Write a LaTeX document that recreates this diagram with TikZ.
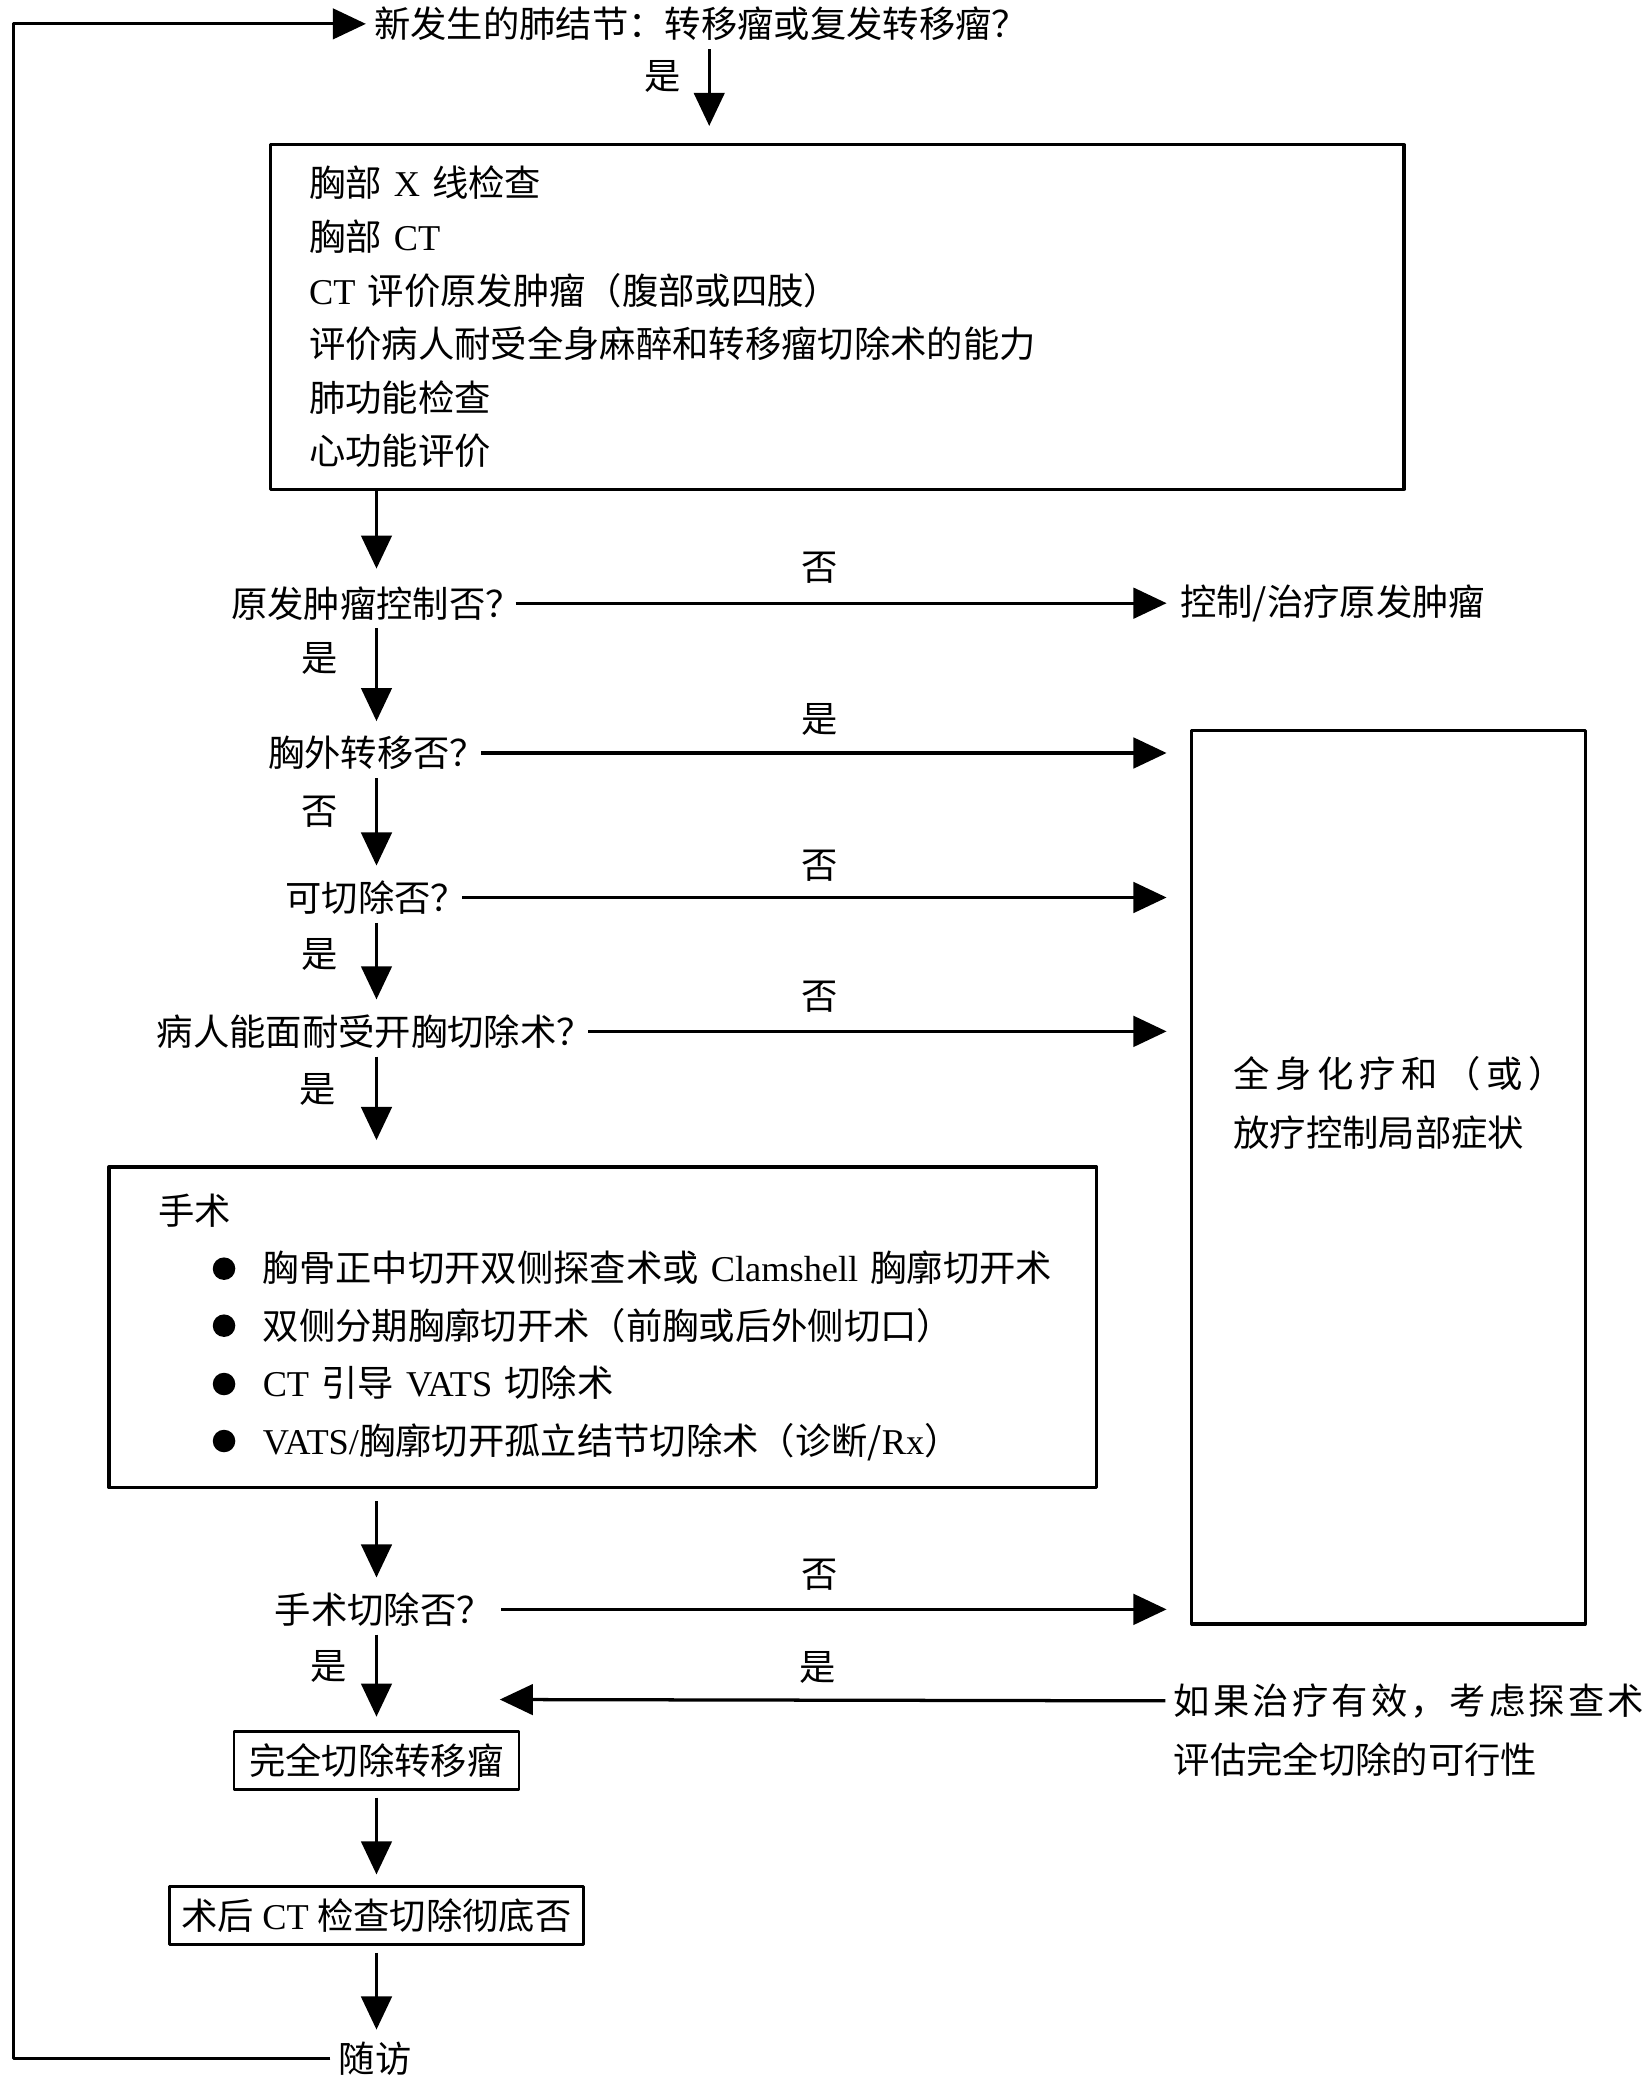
\documentclass[tikz,border=0pt]{standalone}
\usepackage{fontspec}
\setmainfont{Noto Sans CJK SC}
\newfontfamily\latfont{Liberation Serif}
\newcommand{\lat}[1]{{\latfont #1}}
\usetikzlibrary{arrows.meta}

\tikzset{
  flow/.style={line width=1.4pt,-{Triangle[length=0.5cm,width=0.46cm]}},
  txt/.style={inner sep=0.12cm,anchor=west},
  lbl/.style={inner sep=0pt},
  frame/.style={draw,line width=1.4pt},
}

\begin{document}
\begin{tikzpicture}[x=0.02cm,y=-0.02cm,line join=round,font=\fontsize{15.6pt}{23pt}\selectfont]
\useasboundingbox (0,0) rectangle (1240,1566);
\coordinate (col) at (284,0);
\coordinate (ax) at (535,0);
\coordinate (lx) at (10,0);
\coordinate (rx) at (880,0);
\coordinate (fbend) at (377,1282);

% top question and examination box
\node[txt] (top) at (276,18) {新发生的肺结节：转移瘤或复发转移瘤？};
\node[frame,anchor=north west,align=left,text width=15.94cm,inner xsep=0.58cm,minimum height=5.2cm,
  font=\fontsize{15.6pt}{23pt}\selectfont] (exam) at (203,108)
  {胸部 \lat{X} 线检查\\胸部 \lat{CT}\\\lat{CT} 评价原发肿瘤（腹部或四肢）\\评价病人耐受全身麻醉和转移瘤切除术的能力\\肺功能检查\\心功能评价};
\draw[flow,shorten >=0.26cm] (top.south -| ax) -- (exam.north -| ax);
\node[lbl] (y0) at (500,58) {是};

% questions
\node[txt] (q1) at (168,455) {原发肿瘤控制否？};
\node[txt] (ctl) at (884,455) {控制/治疗原发肿瘤};
\node[txt] (q2) at (196,568) {胸外转移否？};
\node[txt] (q3) at (209,677) {可切除否？};
\node[txt] (q4) at (112,778) {病人能面耐受开胸切除术？};

\draw[flow,shorten >=0.14cm] (exam.south -| col) -- (q1.north -| col);
\foreach \a/\b in {q1/q2,q2/q3,q3/q4}
  \draw[flow,shorten >=0.1cm] (\a.south -| col) -- (\b.north -| col);
\node[lbl] (y1) at (241,497) {是};
\node[lbl] (n2) at (241,612) {否};
\node[lbl] (y3) at (241,720) {是};
\node[lbl] (y4) at (240,822) {是};

\draw[flow,shorten <=-0.22cm,shorten >=0.08cm] (q1.east) -- (ctl.west);
\foreach \q in {q2,q3,q4}
  \draw[flow,shorten <=-0.2cm] (\q.east) -- (\q.east -| rx);
\node[lbl] (n1) at (618,428) {否};
\node[lbl] (y2) at (618,543) {是};
\node[lbl] (n3) at (618,653) {否};
\node[lbl] (n4) at (618,752) {否};

% chemotherapy box
\node[frame,minimum width=5.94cm,minimum height=13.48cm] (chemo) at (1047.5,888) {};
\node[txt,align=left,font=\fontsize{15.6pt}{25.5pt}\selectfont] (chemotxt) at (924,832)
  {\makebox[5cm][s]{全\hfil 身\hfil 化\hfil 疗\hfil 和\hfil （\hfil 或\hfil ）}\\放疗控制局部症状};

% surgery box
\node[frame,anchor=north west,align=left,text width=14.1cm,inner xsep=0.4cm,minimum height=4.84cm,
  font=\fontsize{15.6pt}{24.7pt}\selectfont] (surg) at (81,879)
  {\hspace*{0.34cm}手术\\
   \hspace*{1.92cm}胸骨正中切开双侧探查术或 \lat{Clamshell} 胸廓切开术\\
   \hspace*{1.92cm}双侧分期胸廓切开术（前胸或后外侧切口）\\
   \hspace*{1.92cm}\lat{CT} 引导 \lat{VATS} 切除术\\
   \hspace*{1.92cm}\lat{VATS/}胸廓切开孤立结节切除术（诊断/\lat{Rx}）};
\foreach \y in {957,1000,1044,1087}
  \fill[black] (169,\y) circle (0.17cm);
\draw[flow,shorten >=0.38cm] (q4.south -| col) -- (surg.north -| col);

% resection
\node[txt] (q5) at (201,1214) {手术切除否？};
\draw[flow,shorten <=0.18cm,shorten >=0.1cm] (surg.south -| col) -- (q5.north -| col);
\draw[flow] (q5.east) -- (q5.east -| rx);
\node[lbl] (n5) at (618,1188) {否};
\node[lbl] (y5) at (248,1257) {是};

\node[txt,font=\fontsize{15.6pt}{23pt}\selectfont] (fb1) at (879,1283)
  {\makebox[7.1cm][s]{如\hfil 果\hfil 治\hfil 疗\hfil 有\hfil 效\hfil ，\hfil 考\hfil 虑\hfil 探\hfil 查\hfil 术}};
\node[txt] (fb2) at (879,1327) {评估完全切除的可行性};
\draw[flow] (fb1.west) -- (fbend);
\node[lbl] (y6) at (617,1258) {是};

\node[frame,line width=1.2pt,minimum width=4.3cm,minimum height=0.88cm] (res) at (284,1328) {完全切除转移瘤};
\node[frame,line width=1.2pt,minimum width=6.24cm,minimum height=0.88cm] (ctchk) at (284,1445) {术后 \lat{CT} 检查切除彻底否};
\node[inner sep=0.12cm] (fu) at (283,1553) {随访};

\draw[flow,shorten >=0.2cm] (q5.south -| col) -- (res.north);
\draw[flow,shorten <=0.1cm,shorten >=0.16cm] (res.south) -- (ctchk.north);
\draw[flow,shorten <=0.1cm,shorten >=0.06cm] (ctchk.south) -- (fu.north -| col);

% loop back to the top
\draw[flow] (fu.west) -- (fu.west -| lx) |- (top.west);
\end{tikzpicture}
\end{document}
